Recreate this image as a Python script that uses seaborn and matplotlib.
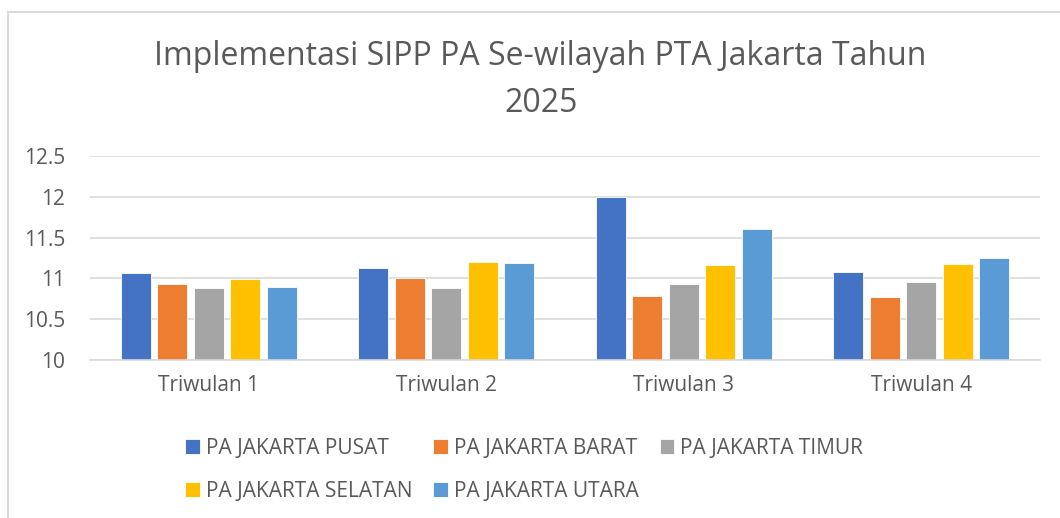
import pandas as pd
import matplotlib.pyplot as plt
import seaborn as sns
from matplotlib.patches import Rectangle

quarters = ["Triwulan 1", "Triwulan 2", "Triwulan 3", "Triwulan 4"]
courts = ["PA JAKARTA PUSAT", "PA JAKARTA BARAT", "PA JAKARTA TIMUR",
          "PA JAKARTA SELATAN", "PA JAKARTA UTARA"]
pusat = [11.06, 11.13, 12.0, 11.08]
barat = [10.93, 11.01, 10.79, 10.77]
timur = [10.88, 10.88, 10.93, 10.95]
selatan = [10.99, 11.20, 11.16, 11.17]
utara = [10.90, 11.19, 11.60, 11.25]
colors = ["#4472C4", "#ED7D31", "#A5A5A5", "#FFC000", "#5B9BD5"]

rows = []
for name, vals in zip(courts, [pusat, barat, timur, selatan, utara]):
    for q, v in zip(quarters, vals):
        rows.append({"quarter": q, "court": name, "value": v})
df = pd.DataFrame(rows)

sns.set_style("white")
plt.rcParams["font.family"] = ["Open Sans", "DejaVu Sans"]

fig = plt.figure(figsize=(10.6, 5.18), dpi=100)
ax = fig.add_axes([0.085, 0.305, 0.896, 0.394])

sns.barplot(data=df, x="quarter", y="value", hue="court", order=quarters,
            hue_order=courts, palette=colors, width=0.77, gap=0.18,
            ax=ax, legend=True, saturation=1, edgecolor="white", linewidth=0.6)

ax.set_ylim(10, 12.5)
ax.set_yticks([10, 10.5, 11, 11.5, 12, 12.5])
ax.set_yticklabels(["10", "10.5", "11", "11.5", "12", "12.5"])
ax.yaxis.grid(True, color="#D9D9D9", linewidth=1.2)
ax.set_axisbelow(True)
for s in ["top", "right", "left"]:
    ax.spines[s].set_visible(False)
ax.spines["bottom"].set_color("#D9D9D9")
ax.spines["bottom"].set_linewidth(1.2)
ax.tick_params(axis="both", length=0, labelsize=15, colors="#595959")
ax.tick_params(axis="y", pad=18)
ax.tick_params(axis="x", pad=11)
ax.set_xlabel("")
ax.set_ylabel("")

fig.text(0.51, 1 - 80 / 518,
         "Implementasi SIPP PA Se-wilayah PTA Jakarta Tahun\n2025",
         fontsize=23, color="#595959", ha="center", va="center",
         linespacing=1.55)

handles, labels = ax.get_legend_handles_labels()
order = [0, 3, 1, 4, 2]
ax.legend([handles[i] for i in order], [labels[i] for i in order],
          ncol=3, loc="upper center", bbox_to_anchor=(0.457, -0.29),
          frameon=False, fontsize=15, labelcolor="#595959",
          handlelength=0.7, handleheight=0.7, handletextpad=0.3,
          columnspacing=1.0, labelspacing=1.05)

fig.patches.append(Rectangle((8 / 1060, -0.1), 1.2, 1 - 12 / 518 + 0.1,
                             transform=fig.transFigure, fill=False,
                             edgecolor="#D9D9D9", linewidth=1.5))

fig.savefig("out.png", dpi=100)
